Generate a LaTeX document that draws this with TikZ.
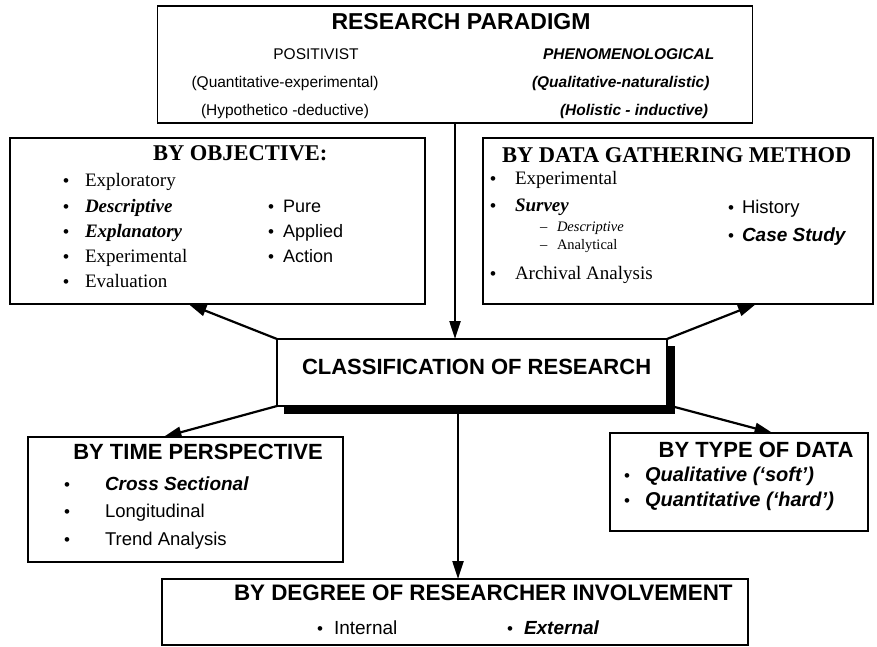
\documentclass[tikz,border=0pt]{standalone}
\usepackage{fontspec}
\setmainfont{Liberation Serif}
\setsansfont{Liberation Sans}
\usetikzlibrary{arrows.meta,calc}

\newcommand{\fs}[1]{\fontsize{#1}{#1}\selectfont}

\tikzset{
  frame/.style={draw, line width=1.5pt, inner sep=0pt, outer sep=0pt, fill=white},
  txt/.style={inner sep=0pt, outer sep=0pt, anchor=mid west},
  ctxt/.style={inner sep=0pt, outer sep=0pt, anchor=mid},
  sanstitle/.style={ctxt, font=\sffamily\bfseries\fs{22}},
  serftitle/.style={txt, font=\rmfamily\bfseries\fs{22.5}},
  topline/.style={font=\sffamily\fs{15.5}},
  topital/.style={txt, font=\sffamily\bfseries\itshape\fs{15.5}},
  serfitem/.style={txt, font=\rmfamily\fs{19}},
  sansitem/.style={txt, font=\sffamily\fs{18.5}},
  sansbi/.style={txt, font=\sffamily\bfseries\itshape\fs{19}},
  dot/.style={txt, font=\sffamily\fs{17}},
  link/.style={line width=2.2pt, -{Triangle[length=18pt,width=11pt]}},
}

\begin{document}
\begin{tikzpicture}[x=1pt,y=-1pt]
\useasboundingbox (0,0) rectangle (877,646);

% ---------- frames ----------
\node[frame, minimum width=595pt, minimum height=117pt] (para)  at (455,64.5)   {};
\node[frame, minimum width=415pt, minimum height=166pt] (obj)   at (217.5,221)  {};
\node[frame, minimum width=390pt, minimum height=166pt] (data)  at (678,221)    {};
\node[frame, minimum width=315pt, minimum height=125pt] (time)  at (185.5,499.5){};
\node[frame, minimum width=258pt, minimum height=98pt]  (type)  at (739,482)    {};
\node[frame, minimum width=586pt, minimum height=66pt]  (inv)   at (455,612)    {};

% ---------- connectors ----------
\draw[link] (para.south) -- (para.south |- 0,339) coordinate (classtop);
\draw[link] ($(inv.north)+(3,-166)$) coordinate (classbot) -- ($(inv.north)+(3,0)$);

% central box with its shadow
\node[draw, fill=black, line width=1pt, minimum width=390pt, minimum height=67pt,
      inner sep=0pt] (shadow) at (479,379.5) {};
\node[frame, minimum width=390pt, minimum height=67pt] (class) at (472,372.5) {};

\draw[link] (class.north west) -- ($(obj.south west)!0.43!(obj.south east)$);
\draw[link] (class.north east) -- ($(data.south west)!0.70!(data.south east)$);
\draw[link] (class.south west) -- ($(time.north west)!0.43!(time.north east)$);
\draw[link] ($(class.south east)+(4,0)$) coordinate (classse) -- ($(type.north west)!0.63!(type.north east)$);

% ---------- research paradigm ----------
\node[ctxt, font=\sffamily\bfseries\fs{23}] (paratitle) at (461,27) {RESEARCH PARADIGM};
\node[ctxt, topline] (pos1) at (316,57)  {POSITIVIST};
\node[ctxt, topline] (pos2) at (285,85)  {(Quantitative-experimental)};
\node[ctxt, topline] (pos3) at (285,113) {(Hypothetico -deductive)};
\node[topital] (phe1) at (543,57)  {PHENOMENOLOGICAL};
\node[topital] (phe2) at (532,85)  {(Qualitative-naturalistic)};
\node[topital] (phe3) at (560,113) {(Holistic - inductive)};

% ---------- by objective ----------
\node[serftitle] (objtitle) at (153,158) {BY OBJECTIVE:};
\foreach \y/\t [count=\i] in {184/Exploratory, 210/\textbf{\textit{Descriptive}},
    235/\textbf{\textit{Explanatory}}, 260/Experimental, 285/Evaluation}{
  \node[dot] (objb\i) at (63,\y) {•};
  \node[serfitem] (obji\i) at (85,\y) {\t};
}
\foreach \y/\t [count=\i] in {210/Pure, 235/Applied, 260/Action}{
  \node[dot] (objrb\i) at (268,\y) {•};
  \node[txt, font=\sffamily\fs{18}] (objr\i) at (283,\y) {\t};
}

% ---------- by data gathering method ----------
\node[serftitle] (datatitle) at (502,160) {BY DATA GATHERING METHOD};
\node[dot] (datab1) at (490,182) {•};
\node[serfitem] (datai1) at (515,182) {Experimental};
\node[dot] (datab2) at (490,209) {•};
\node[serfitem, font=\rmfamily\bfseries\itshape\fs{19}] (datai2) at (515,209) {Survey};
\node[txt, font=\rmfamily\fs{14.5}] (datad1) at (540,229) {–};
\node[txt, font=\rmfamily\itshape\fs{14.5}] (datas1) at (557,229) {Descriptive};
\node[txt, font=\rmfamily\fs{14.5}] (datad2) at (540,247) {–};
\node[txt, font=\rmfamily\fs{14.5}] (datas2) at (557,247) {Analytical};
\node[dot] (datab3) at (490,277) {•};
\node[serfitem] (datai3) at (515,277) {Archival Analysis};
\node[dot] (datarb1) at (728,211) {•};
\node[sansitem] (datar1) at (742,211) {History};
\node[dot] (datarb2) at (728,239) {•};
\node[sansbi] (datar2) at (742,239) {Case Study};

% ---------- classification ----------
\node[txt, font=\sffamily\bfseries\fs{22}] (classtext) at (302,372) {CLASSIFICATION OF RESEARCH};

% ---------- by time perspective ----------
\node[sanstitle] (timetitle) at (198,457) {BY TIME PERSPECTIVE};
\node[dot] (timeb1) at (64,488) {•};
\node[sansbi] (timei1) at (105,488) {Cross Sectional};
\node[dot] (timeb2) at (64,515) {•};
\node[sansitem] (timei2) at (105,515) {Longitudinal};
\node[dot] (timeb3) at (64,543) {•};
\node[sansitem] (timei3) at (105,543) {Trend Analysis};

% ---------- by type of data ----------
\node[sanstitle] (typetitle) at (756,455) {BY TYPE OF DATA};
\node[dot] (typeb1) at (624,479) {•};
\node[txt, font=\sffamily\bfseries\itshape\fs{20}] (typei1) at (645,479) {Qualitative (‘soft’)};
\node[dot] (typeb2) at (624,504) {•};
\node[txt, font=\sffamily\bfseries\itshape\fs{20}] (typei2) at (645,504) {Quantitative (‘hard’)};

% ---------- by degree of researcher involvement ----------
\node[txt, font=\sffamily\bfseries\fs{22.4}] (invtitle) at (234,598) {BY DEGREE OF RESEARCHER INVOLVEMENT};
\node[dot] (invb1) at (317,632) {•};
\node[sansitem, font=\sffamily\fs{19}] (invi1) at (334,632) {Internal};
\node[dot] (invb2) at (507,632) {•};
\node[sansbi] (invi2) at (524,632) {External};
\end{tikzpicture}
\end{document}
